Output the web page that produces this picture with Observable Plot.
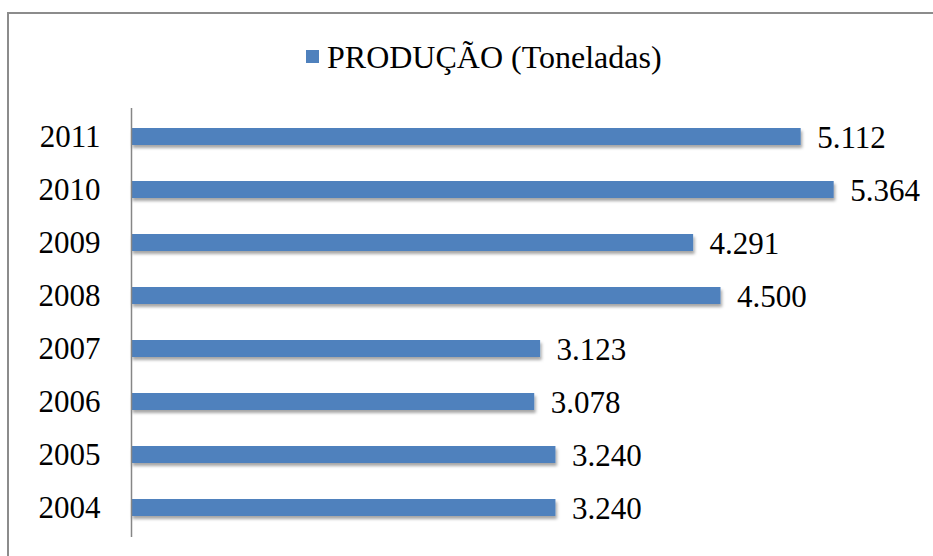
<!DOCTYPE html>
<html>
<head>
<meta charset="utf-8">
<script src="https://cdn.jsdelivr.net/npm/d3@7"></script>
<script src="https://cdn.jsdelivr.net/npm/@observablehq/plot@0.6"></script>
<style>
  html, body { margin: 0; padding: 0; background: #fff; overflow: hidden; }
  #wrap { position: relative; width: 933px; height: 556px; font-family: "Liberation Serif", "Times New Roman", serif; }
  #frame { position: absolute; left: 7px; top: 12px; width: 940px; height: 560px; border: 2px solid #8c8c8c; box-sizing: border-box; }
  #legend { position: absolute; left: 0; top: 38px; width: 933px; height: 40px; font-size: 32px; color: #000; }
  #legend .sw { position: absolute; left: 306px; top: 12px; width: 13px; height: 13px; background: #4F81BD; }
  #legend .lbl { position: absolute; left: 327px; top: 0px; white-space: nowrap; line-height: 38px; }
  #chart { position: absolute; left: 0; top: 100px; }
</style>
</head>
<body>
<div id="wrap">
  <div id="frame"></div>
  <div id="legend"><span class="sw"></span><span class="lbl"></span></div>
  <div id="chart"></div>
</div>
<script>
const years = ["2011", "2010", "2009", "2008", "2007", "2006", "2005", "2004"];
const production = [5112, 5364, 4291, 4500, 3123, 3078, 3240, 3240];
const seriesName = "PRODUÇÃO (Toneladas)";
const barColor = "#4F81BD";

const data = years.map((y, i) => ({year: y, value: production[i]}));
const ptFormat = d3.formatLocale({decimal: ",", thousands: ".", grouping: [3], currency: ["R$", ""]}).format(",");

document.querySelector("#legend .lbl").textContent = seriesName;

const plot = Plot.plot({
  width: 933,
  height: 456,
  marginTop: 8,
  marginBottom: 19,
  marginLeft: 131,
  marginRight: 16,
  style: {fontFamily: "'Liberation Serif', 'Times New Roman', serif", fontSize: "31px", color: "#000", background: "transparent"},
  x: {domain: [0, 6000], axis: null},
  y: {domain: years, paddingInner: 0.67, paddingOuter: 0.335, label: null, tickSize: 0, tickPadding: 31},
  marks: [
    Plot.barX(data, {x: "value", y: "year", fill: barColor}),
    Plot.text(data, {x: "value", y: "year", text: d => ptFormat(d.value), textAnchor: "start", dx: 16, dy: 1, fill: "#000"}),
    Plot.ruleX([0], {stroke: "#868686", strokeWidth: 1.5})
  ]
});

document.getElementById("chart").appendChild(plot);

// drop shadow on the bars (styling only)
const svg = d3.select(plot);
const defs = svg.insert("defs", ":first-child");
const f = defs.append("filter").attr("id", "barShadow").attr("x", "-5%").attr("y", "-50%").attr("width", "110%").attr("height", "250%");
f.append("feDropShadow").attr("dx", 1.5).attr("dy", 3).attr("stdDeviation", 1.8).attr("flood-color", "#000").attr("flood-opacity", 0.35);
svg.selectAll("g[aria-label='bar']").attr("filter", "url(#barShadow)");
svg.selectAll("g[aria-label='y-axis tick label'] text, g[aria-label='y-axis'] text").attr("fill", "#000");
</script>
</body>
</html>
